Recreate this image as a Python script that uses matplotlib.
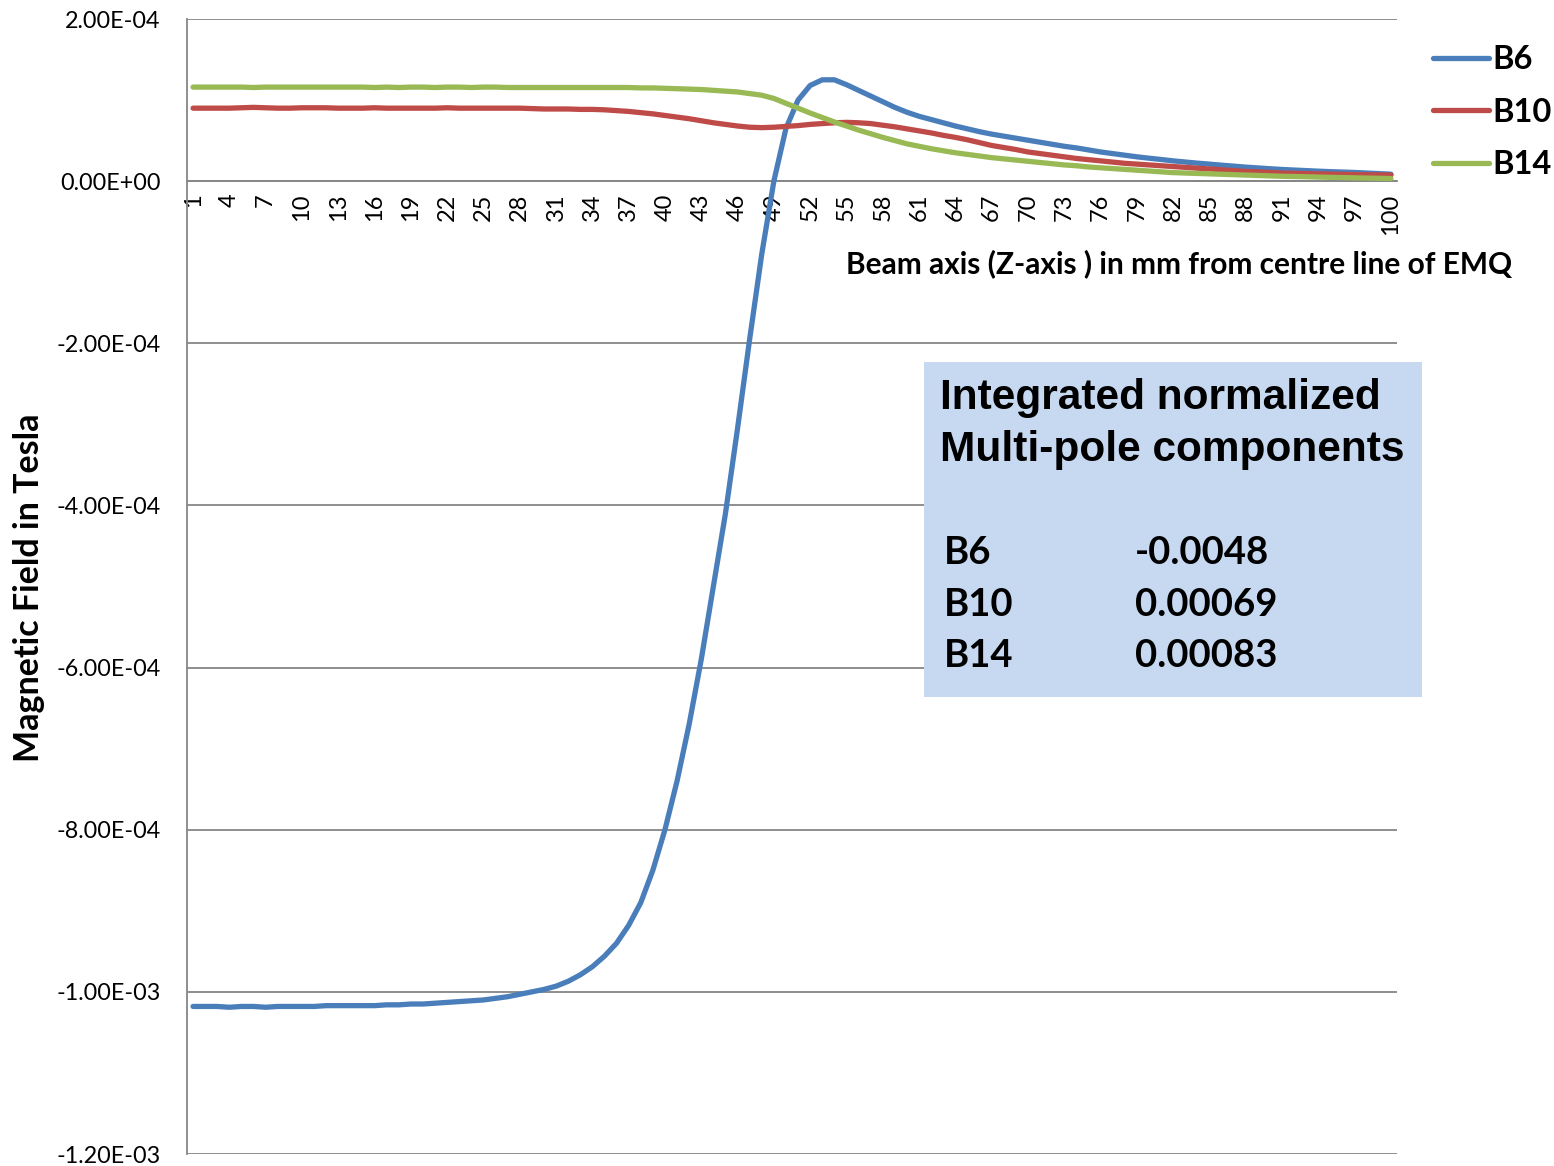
import matplotlib
matplotlib.use("Agg")
import matplotlib.pyplot as plt
import numpy as np
from matplotlib.patches import Rectangle
from matplotlib.ticker import FuncFormatter, MultipleLocator

# z position along beam axis (mm)
z_mm = list(range(1, 101))

# field values, in units of 1e-4 T
b6 = [-10.18, -10.18, -10.18, -10.19, -10.18, -10.18, -10.19, -10.18, -10.18, -10.18,
      -10.18, -10.17, -10.17, -10.17, -10.17, -10.17, -10.16, -10.16, -10.15, -10.15,
      -10.14, -10.13, -10.12, -10.11, -10.10, -10.08, -10.06, -10.03, -10.00, -9.97,
      -9.93, -9.87, -9.79, -9.69, -9.56, -9.40, -9.18, -8.90, -8.50, -8.00,
      -7.40, -6.70, -5.90, -5.00, -4.10, -3.05, -1.95, -0.90, 0.00, 0.65,
      1.00, 1.18, 1.25, 1.25, 1.19, 1.12, 1.05, 0.98, 0.91, 0.85,
      0.80, 0.76, 0.72, 0.68, 0.645, 0.61, 0.58, 0.555, 0.53, 0.505,
      0.48, 0.455, 0.43, 0.41, 0.385, 0.36, 0.34, 0.32, 0.30, 0.283,
      0.267, 0.25, 0.236, 0.222, 0.21, 0.197, 0.185, 0.173, 0.163, 0.153,
      0.144, 0.137, 0.13, 0.123, 0.117, 0.112, 0.107, 0.10, 0.093, 0.086]

b10 = [0.90, 0.90, 0.90, 0.90, 0.905, 0.91, 0.905, 0.90, 0.90, 0.905,
       0.905, 0.905, 0.90, 0.90, 0.90, 0.905, 0.90, 0.90, 0.90, 0.90,
       0.90, 0.905, 0.90, 0.90, 0.90, 0.90, 0.90, 0.90, 0.895, 0.89,
       0.89, 0.89, 0.885, 0.885, 0.88, 0.87, 0.86, 0.845, 0.83, 0.81,
       0.79, 0.77, 0.745, 0.72, 0.70, 0.68, 0.665, 0.66, 0.665, 0.675,
       0.685, 0.70, 0.71, 0.72, 0.725, 0.72, 0.71, 0.69, 0.67, 0.645,
       0.62, 0.595, 0.565, 0.54, 0.51, 0.475, 0.44, 0.415, 0.39, 0.36,
       0.34, 0.32, 0.30, 0.28, 0.265, 0.25, 0.235, 0.22, 0.21, 0.20,
       0.19, 0.18, 0.17, 0.16, 0.15, 0.14, 0.13, 0.12, 0.115, 0.108,
       0.10, 0.097, 0.093, 0.09, 0.087, 0.084, 0.081, 0.079, 0.077, 0.075]

b14 = [1.16, 1.16, 1.16, 1.16, 1.16, 1.155, 1.16, 1.16, 1.16, 1.16,
       1.16, 1.16, 1.16, 1.16, 1.16, 1.155, 1.16, 1.155, 1.16, 1.16,
       1.155, 1.16, 1.16, 1.155, 1.16, 1.16, 1.155, 1.155, 1.155, 1.155,
       1.155, 1.155, 1.155, 1.155, 1.155, 1.155, 1.155, 1.15, 1.15, 1.145,
       1.14, 1.135, 1.13, 1.12, 1.11, 1.10, 1.08, 1.06, 1.02, 0.96,
       0.90, 0.84, 0.785, 0.73, 0.68, 0.63, 0.585, 0.54, 0.50, 0.46,
       0.43, 0.40, 0.375, 0.35, 0.33, 0.31, 0.29, 0.275, 0.26, 0.245,
       0.23, 0.215, 0.20, 0.19, 0.175, 0.165, 0.155, 0.145, 0.135, 0.125,
       0.115, 0.105, 0.10, 0.095, 0.09, 0.085, 0.08, 0.075, 0.07, 0.065,
       0.06, 0.057, 0.054, 0.05, 0.047, 0.044, 0.041, 0.038, 0.035, 0.032]

series_names = ['B6', 'B10', 'B14']
colors = ['#4A7EBB', '#BE4B48', '#98B954']

table_names = ['B6', 'B10', 'B14']
table_values = ['-0.0048', '0.00069', '0.00083']

W, H = 1554, 1166
fig = plt.figure(figsize=(W / 100, H / 100), dpi=100)
ax = fig.add_axes([187 / W, 1 - 1154 / H, (1397 - 187) / W, (1154 - 19) / H])

grid_c = '#868686'
for vals, name, c in zip([b6, b10, b14], series_names, colors):
    ax.plot(z_mm, np.array(vals) * 1e-4, color=c, lw=3.8, label=name,
            solid_capstyle='round', zorder=3)


def sci(v, pos):
    if abs(v) < 1e-12:
        v = 0.0
    return f'{v:.2E}'


ax.set_xlim(0.5, 100.5)
ax.set_ylim(-1.2e-3, 2e-4)
ax.yaxis.set_major_locator(MultipleLocator(2e-4))
ax.yaxis.set_major_formatter(FuncFormatter(sci))
ax.grid(axis='y', color=grid_c, lw=1.3)
ax.set_axisbelow(True)

ax.set_xticks(z_mm[::3])
ax.set_xticklabels([str(z) for z in z_mm[::3]])

for s in ['top', 'right']:
    ax.spines[s].set_visible(False)
ax.spines['left'].set_color(grid_c)
ax.spines['left'].set_linewidth(1.3)
ax.spines['bottom'].set_position(('data', 0))
ax.spines['bottom'].set_color(grid_c)
ax.spines['bottom'].set_linewidth(1.3)

ax.tick_params(axis='x', length=0, pad=9, labelsize=17, labelrotation=90)
ax.tick_params(axis='y', length=0, pad=19, labelsize=16.8)
for lab in ax.get_xticklabels():
    lab.set_fontfamily('Lato')
    lab.set_va('top')
for lab in ax.get_yticklabels():
    lab.set_fontfamily('Lato')

fig.text(29 / W, 1 - 588 / H, 'Magnetic Field in Tesla', rotation=90,
         ha='center', va='center', fontsize=24.5, fontweight='bold', family='Lato')
fig.text(1179 / W, 1 - 264 / H, 'Beam axis (Z-axis ) in mm from centre line of EMQ',
         ha='center', va='center', fontsize=21.5, fontweight='bold', family='Lato')

fig.legend(loc='upper left', bbox_to_anchor=(1420 / W, 1 - 32 / H), frameon=False,
           prop={'family': 'Lato', 'weight': 'bold', 'size': 23.5},
           handlelength=1.7, handletextpad=0.12, labelspacing=0.72, borderaxespad=0)

# info box
fig.add_artist(Rectangle((924 / W, 1 - 697 / H), (1422 - 924) / W, (697 - 362) / H,
                         transform=fig.transFigure, facecolor='#C6D9F1',
                         edgecolor='none', zorder=5))
for j, line in enumerate(['Integrated normalized', 'Multi-pole components']):
    fig.text(940 / W, 1 - (398 + j * 52) / H, line, ha='left', va='center',
             fontsize=30.5, fontweight='bold', family='Liberation Sans', zorder=6)
for i, (n, v) in enumerate(zip(table_names, table_values)):
    y = 553 + i * 51.5
    fig.text(944 / W, 1 - y / H, n, ha='left', va='center', fontsize=27.5,
             fontweight='bold', family='Lato', zorder=6)
    fig.text(1135 / W, 1 - y / H, v, ha='left', va='center', fontsize=27.5,
             fontweight='bold', family='Lato', zorder=6)

fig.savefig('out.png', dpi=100)
